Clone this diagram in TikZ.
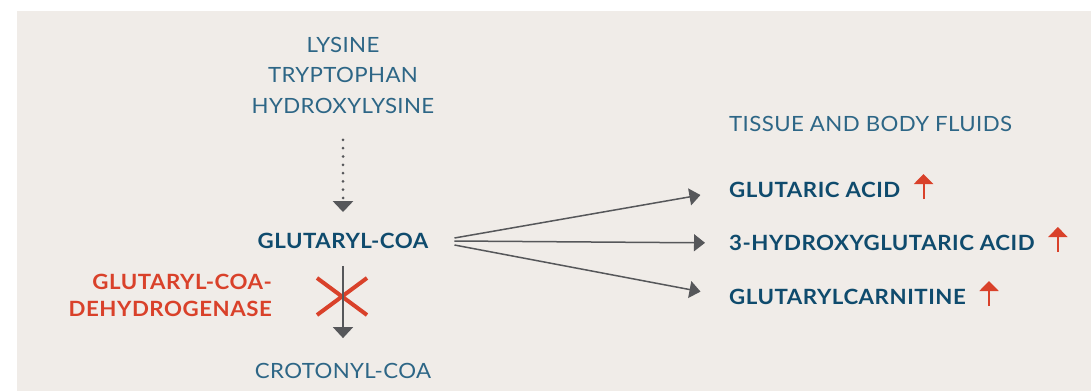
\documentclass[tikz,border=0pt]{standalone}
\usepackage{fontspec}
\setmainfont{Lato}[FakeStretch=1.06,LetterSpace=1.8,BoldFeatures={LetterSpace=2.5}]
\usetikzlibrary{arrows.meta,positioning}
\definecolor{panelbg}{HTML}{F0ECE8}
\definecolor{pathblue}{HTML}{2D6686}
\definecolor{pathbold}{HTML}{0F4B6D}
\definecolor{blockred}{HTML}{D9412A}
\definecolor{arrowgray}{HTML}{56575A}

\begin{document}
\begin{tikzpicture}[x=1pt,y=-1pt,
    every node/.style={inner sep=0pt,font=\fontsize{21}{27}\selectfont},
    amino/.style={text=pathblue},
    metab/.style={text=pathbold,font=\fontsize{21}{27}\selectfont\bfseries},
    enzyme/.style={text=blockred,font=\fontsize{21}{27}\selectfont\bfseries,align=right},
    flow/.style={draw=arrowgray,line width=1.5pt,-{Triangle[width=17pt,length=11pt]}},
    step down/.style={draw=arrowgray,line width=1.5pt,-{Triangle[width=20pt,length=11pt]}},
    rise/.style={draw=blockred,line width=2pt,-{Triangle[width=19pt,length=10pt]}}]
  \useasboundingbox (0,0) rectangle (1091,391);
  \fill[panelbg] (17,11) rectangle (1091,391);

  % amino acids feeding in at the top
  \foreach \lab/\name/\y in {LYSINE/lys/45, TRYPTOPHAN/trp/75, HYDROXYLYSINE/hyl/106} {
    \node[amino] (\name) at (343,\y) {\lab};
  }

  \node[metab] (gcoa) at (343,241) {GLUTARYL-COA};
  \node[amino] (ccoa) at (343,371) {CROTONYL-COA};
  \node[enzyme,anchor=east] (gcdh) at (272,295.5) {GLUTARYL-COA-\\DEHYDROGENASE};

  \draw[arrowgray,line width=3pt,line cap=round,dash pattern=on 0pt off 8.3pt,
        -{Triangle[width=20pt,length=11pt,line cap=butt]},shorten <=26pt,shorten >=21pt] (hyl) -- (gcoa);

  % blocked step
  \draw[blockred,line width=4pt] (317,278) -- (367,315) (317,315) -- (367,278);
  \draw[step down,shorten <=17pt,shorten >=25pt] (gcoa) -- (ccoa);

  % accumulating metabolites
  \node[amino,anchor=west] (fluids) at (729,124) {TISSUE AND BODY FLUIDS};
  \foreach \lab/\name/\y in {GLUTARIC ACID/ga/190, 3-HYDROXYGLUTARIC ACID/hga/243, GLUTARYLCARNITINE/gcar/297} {
    \node[metab,anchor=west] (\name) at (729,\y) {\lab};
    \draw[rise] ([xshift=23pt,yshift=-9pt]\name.east) -- ([xshift=23pt,yshift=16pt]\name.east);
  }

  \draw[flow,shorten >=29pt] ([xshift=26pt,yshift=3pt]gcoa.east) -- (ga.west);
  \draw[flow,shorten >=24pt] ([xshift=26pt]gcoa.east) -- (hga.west);
  \draw[flow,shorten >=29pt] ([xshift=26pt,yshift=-4pt]gcoa.east) -- (gcar.west);
\end{tikzpicture}
\end{document}
